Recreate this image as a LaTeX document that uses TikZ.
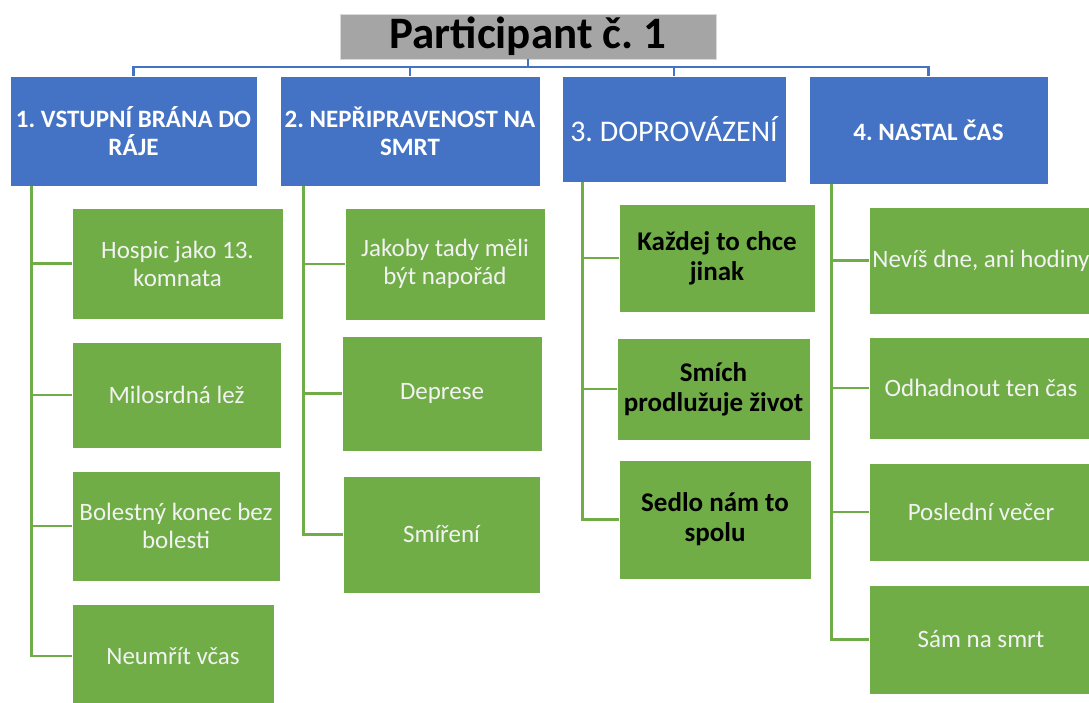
\documentclass[tikz,border=0pt]{standalone}
\usepackage{fontspec}
\setmainfont{Carlito}
\frenchspacing
\definecolor{hdrblue}{HTML}{4472C4}
\definecolor{leafgreen}{HTML}{70AD47}
\definecolor{titlegray}{HTML}{A5A5A5}
\definecolor{leaftext}{HTML}{F2F2F2}
\begin{document}
\begin{tikzpicture}[x=1pt,y=-1pt,
  box/.style={rectangle, inner sep=0pt, draw=white, line width=0.8pt, align=center},
  titlebox/.style={box, fill=titlegray, draw=black!15, text=black,
    font=\bfseries\fontsize{45}{50}\selectfont},
  hdr/.style={box, fill=hdrblue, text=white, font=\bfseries\fontsize{25}{28}\selectfont},
  hdrbig/.style={box, fill=hdrblue, text=white, font=\fontsize{30}{34}\selectfont},
  leaf/.style={box, fill=leafgreen, text=leaftext, font=\fontsize{25}{28}\selectfont},
  boldleaf/.style={box, fill=leafgreen, text=black, font=\bfseries\fontsize{27}{30}\selectfont},
  bline/.style={draw=hdrblue, line width=2.6pt},
  gline/.style={draw=leafgreen, line width=2.8pt},
]
\useasboundingbox (0,0) rectangle (1089,702);
\fill[white] (0,0) rectangle (1089,702);
\clip (0,0) rectangle (1089,702);

% title
\node[titlebox, minimum width=376pt, minimum height=45pt] (title) at (528,36.5) {Participant č. 1};

% category headers
\node[hdr, minimum width=247pt, minimum height=110pt] (h1) at (133.5,131) {1. VSTUPNÍ BRÁNA DO\\RÁJE};
\node[hdr, minimum width=260pt, minimum height=110pt] (h2) at (410,131) {2. NEPŘIPRAVENOST NA\\SMRT};
\node[hdrbig, minimum width=224pt, minimum height=106pt] (h3) at (674,129) {3. DOPROVÁZENÍ};
\node[hdr, minimum width=239pt, minimum height=108pt] (h4) at (928.5,130) {4. NASTAL ČAS};

% column 1
\node[leaf, minimum width=211pt, minimum height=111pt] (b11) at (177.5,263.5) {Hospic jako 13.\\komnata};
\node[leaf, minimum width=209pt, minimum height=106pt] (b12) at (176.5,395) {Milosrdná lež};
\node[leaf, minimum width=208pt, minimum height=110pt] (b13) at (176,526) {Bolestný konec bez\\bolesti};
\node[leaf, minimum width=202pt, minimum height=104pt] (b14) at (173,656) {Neumřít včas};

% column 2
\node[leaf, minimum width=200pt, minimum height=112pt] (b21) at (445,264) {Jakoby tady měli\\být napořád};
\node[leaf, minimum width=200pt, minimum height=115pt] (b22) at (442,393.5) {Deprese};
\node[leaf, minimum width=197pt, minimum height=117pt] (b23) at (441.5,534.5) {Smíření};

% column 3
\node[boldleaf, minimum width=196pt, minimum height=108pt] (b31) at (717,258) {Každej to chce\\jinak};
\node[boldleaf, minimum width=193pt, minimum height=102pt] (b32) at (713.5,389) {Smích\\prodlužuje život};
\node[boldleaf, minimum width=192pt, minimum height=119pt] (b33) at (715,519.5) {Sedlo nám to\\spolu};

% column 4
\node[leaf, minimum width=224pt, minimum height=107pt] (b41) at (981,260.5) {Nevíš dne, ani hodiny};
\node[leaf, minimum width=224pt, minimum height=102pt] (b42) at (981,388) {Odhadnout ten čas};
\node[leaf, minimum width=224pt, minimum height=98pt] (b43) at (981,512) {Poslední večer};
\node[leaf, minimum width=224pt, minimum height=109pt] (b44) at (981,639.5) {Sám na smrt};

% blue connectors from the title to the headers
\coordinate (bus) at (0,67);
\draw[bline] (title.south) -- (title.south |- bus);
\draw[bline] (h1.north) |- (bus -| h4.north) -- (h4.north);
\draw[bline] (h2.north) -- (h2.north |- bus);
\draw[bline] (h3.north) -- (h3.north |- bus);

% green trunks and branches
\coordinate (t1) at ([xshift=22pt]h1.south west);
\coordinate (t2) at ([xshift=24pt]h2.south west);
\coordinate (t3) at ([xshift=21pt]h3.south west);
\coordinate (t4) at ([xshift=23pt]h4.south west);
\draw[gline] (t1) |- (b14.west);
\foreach \b in {b11,b12,b13} \draw[gline] (\b.west) -- (\b.west -| t1);
\draw[gline] (t2) |- (b23.west);
\foreach \b in {b21,b22} \draw[gline] (\b.west) -- (\b.west -| t2);
\draw[gline] (t3) |- (b33.west);
\foreach \b in {b31,b32} \draw[gline] (\b.west) -- (\b.west -| t3);
\draw[gline] (t4) |- (b44.west);
\foreach \b in {b41,b42,b43} \draw[gline] (\b.west) -- (\b.west -| t4);
\end{tikzpicture}
\end{document}
